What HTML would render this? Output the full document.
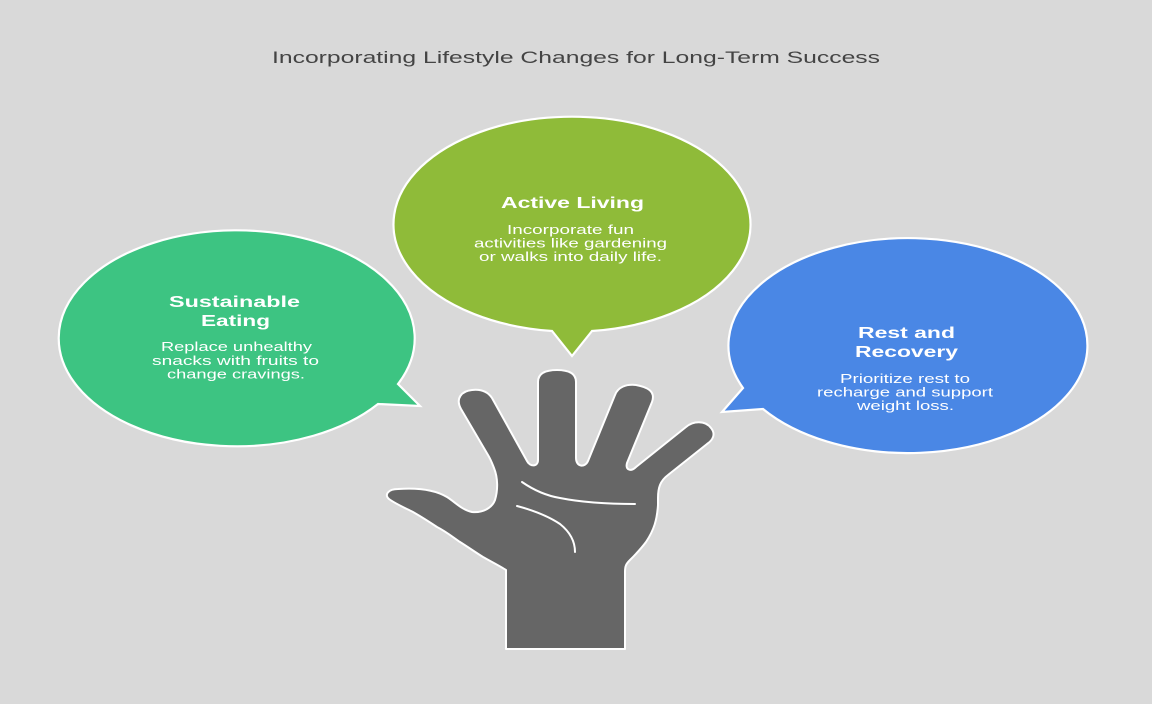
<!DOCTYPE html>
<html>
<head>
<meta charset="utf-8">
<style>
  html, body { margin: 0; padding: 0; background: #d9d9d9; }
  svg { display: block; }
  text { font-family: "Liberation Sans", Arial, sans-serif; }
  .h { font-weight: bold; fill: #ffffff; font-size: 16px; }
  .b { fill: #ffffff; font-size: 12.8px; }
</style>
</head>
<body>
<svg width="1152" height="704" viewBox="0 0 1152 704" xmlns="http://www.w3.org/2000/svg">
  <rect x="0" y="0" width="1152" height="704" fill="#d9d9d9"/>

  <!-- Title -->
  <text x="272" y="63" font-size="17" fill="#444444" textLength="608" lengthAdjust="spacingAndGlyphs">Incorporating Lifestyle Changes for Long-Term Success</text>

  <!-- Green bubble: Sustainable Eating -->
  <path d="M 398 384 L 420 406 L 378 404 A 178 108 0 1 1 398 384 Z" fill="#3dc482" stroke="#ffffff" stroke-width="2.2" stroke-linejoin="miter"/>

  <!-- Olive bubble: Active Living -->
  <path d="M 592 331 L 572 356 L 552 331 A 178.5 107.5 0 1 1 592 331 Z" fill="#8fbb39" stroke="#ffffff" stroke-width="2.2"/>

  <!-- Blue bubble: Rest and Recovery -->
  <path d="M 743 388 L 722 412 L 763 409 A 179.5 107.5 0 1 0 743 388 Z" fill="#4a87e5" stroke="#ffffff" stroke-width="2.2"/>

  <!-- Hand -->
  <path d="M 506 649
           L 506 570
           C 500 566, 490 561, 483 557
           C 475 552, 468 547, 460 542
           C 450 535, 445 531, 437 527
           C 428 521, 420 516, 413 512
           C 403 507, 394 503, 389 499
           C 384 495, 388 489, 398 489
           C 412 488, 432 488, 447 497
           C 455 502, 462 510, 472 512
           C 483 513, 492 508, 495 500
           C 498 490, 498 478, 494 468
           C 492 463, 491 460, 488 455
           L 461 409
           C 455 398, 462 391, 472 390
           C 481 389, 488 392, 492 398
           L 527 461
           C 530 467, 538 467, 538 460
           L 538 382
           C 538 372, 548 370, 557 370
           C 566 370, 576 372, 576 382
           L 576 458
           C 576 467, 585 468, 588 461
           L 615 395
           C 618 387, 626 384, 636 385
           C 647 387, 656 391, 652 402
           L 627 463
           C 625 470, 631 472, 636 467
           L 686 427
           C 693 421, 705 420, 711 428
           C 716 434, 713 440, 707 444
           L 668 475
           C 660 481, 658 488, 658 498
           L 658 505
           C 657 520, 654 530, 646 542
           C 640 550, 634 556, 630 560
           C 626 564, 625 566, 625 572
           L 625 649 Z"
        fill="#666666" stroke="#ffffff" stroke-width="2" stroke-linejoin="round"/>
  <!-- Palm lines -->
  <path d="M 522 482 C 535 491, 548 496, 560 498 C 580 502, 605 504, 635 504" fill="none" stroke="#ffffff" stroke-width="2" stroke-linecap="round"/>
  <path d="M 517 506 C 532 510, 548 516, 560 524 C 570 532, 575 542, 575 552" fill="none" stroke="#ffffff" stroke-width="2" stroke-linecap="round"/>

  <!-- Sustainable Eating text -->
  <text class="h" x="169" y="307" textLength="131" lengthAdjust="spacingAndGlyphs">Sustainable</text>
  <text class="h" x="201" y="326" textLength="69" lengthAdjust="spacingAndGlyphs">Eating</text>
  <text class="b" x="161" y="351" textLength="151" lengthAdjust="spacingAndGlyphs">Replace unhealthy</text>
  <text class="b" x="152" y="365" textLength="167" lengthAdjust="spacingAndGlyphs">snacks with fruits to</text>
  <text class="b" x="167" y="378.5" textLength="138" lengthAdjust="spacingAndGlyphs">change cravings.</text>

  <!-- Active Living text -->
  <text class="h" x="501" y="208" textLength="143" lengthAdjust="spacingAndGlyphs">Active Living</text>
  <text class="b" x="507" y="234" textLength="127" lengthAdjust="spacingAndGlyphs">Incorporate fun</text>
  <text class="b" x="474" y="247.5" textLength="193" lengthAdjust="spacingAndGlyphs">activities like gardening</text>
  <text class="b" x="479" y="261" textLength="183" lengthAdjust="spacingAndGlyphs">or walks into daily life.</text>

  <!-- Rest and Recovery text -->
  <text class="h" x="858" y="338" textLength="97" lengthAdjust="spacingAndGlyphs">Rest and</text>
  <text class="h" x="855" y="357" textLength="103" lengthAdjust="spacingAndGlyphs">Recovery</text>
  <text class="b" x="840" y="383" textLength="130" lengthAdjust="spacingAndGlyphs">Prioritize rest to</text>
  <text class="b" x="817" y="396.5" textLength="176" lengthAdjust="spacingAndGlyphs">recharge and support</text>
  <text class="b" x="857" y="410" textLength="97" lengthAdjust="spacingAndGlyphs">weight loss.</text>
</svg>
</body>
</html>
